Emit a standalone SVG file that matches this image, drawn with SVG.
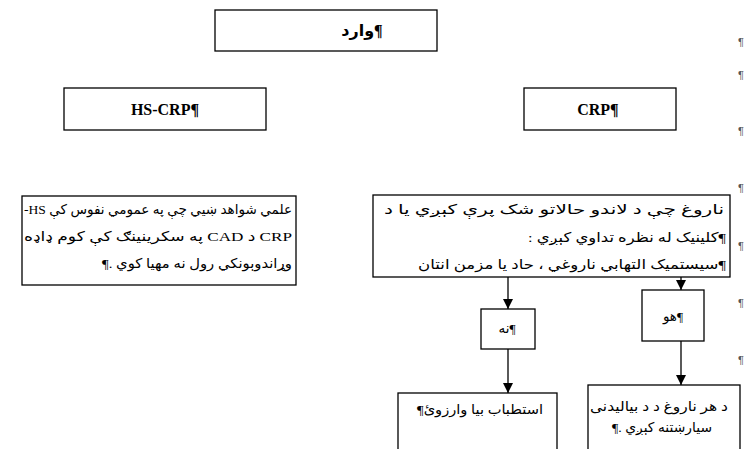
<svg xmlns="http://www.w3.org/2000/svg" width="749" height="449" viewBox="0 0 749 449">
<defs>
<marker id="ah" viewBox="0 0 10 10" refX="10" refY="5" markerWidth="11" markerHeight="10" markerUnits="userSpaceOnUse" orient="auto">
<path d="M0,0 L10,5 L0,10 z" fill="#000"/>
</marker>
<style>
.box{fill:#fff;stroke:#000;stroke-width:1.3}
.hd{font-family:"Liberation Serif","DejaVu Sans",serif;font-weight:bold;font-size:16px;fill:#000}
.arl{font-family:"Liberation Serif","DejaVu Sans",serif;font-size:13.5px;fill:#000}
.pm{font-family:"Liberation Sans",sans-serif;font-size:11px;fill:#555}
.ln{stroke:#000;stroke-width:1.3;fill:none;marker-end:url(#ah)}
</style>
</defs>
<rect width="749" height="449" fill="#fff"/>

<g id="n-entry">
<rect class="box" x="215" y="10" width="222" height="41"/>
<text class="hd" x="362" y="36" text-anchor="middle">وارد¶</text>
</g>

<g id="n-hscrp">
<rect class="box" x="64" y="88" width="202" height="42"/>
<text class="hd" x="165" y="115" text-anchor="middle">HS-CRP¶</text>
</g>

<g id="n-crp">
<rect class="box" x="524" y="88" width="152" height="42"/>
<text class="hd" x="598" y="115" text-anchor="middle">CRP¶</text>
</g>

<g id="n-hscrp-text">
<rect class="box" x="22" y="196" width="274" height="89"/>
<text class="arl" direction="rtl" x="292" y="214" textLength="268" lengthAdjust="spacingAndGlyphs">علمي شواهد ښيي چې په عمومي نفوس کې HS-</text>
<text class="arl" direction="rtl" x="292" y="241" textLength="268" lengthAdjust="spacingAndGlyphs">CRP د CAD په سکرینینګ کې کوم ډاډه</text>
<text class="arl" direction="rtl" x="292" y="268" textLength="190" lengthAdjust="spacingAndGlyphs">وړاندوېونکي رول نه مهیا کوي .¶</text>
</g>

<g id="n-crp-text">
<rect class="box" x="373" y="195" width="357" height="82"/>
<text class="arl" direction="rtl" x="724" y="214" textLength="340" lengthAdjust="spacingAndGlyphs">ناروغ چې د لاندو حالاتو شک پرې کېږي يا د</text>
<text class="arl" direction="rtl" x="726" y="242" textLength="198" lengthAdjust="spacingAndGlyphs">¶کلینیک له نظره تداوي کېږي :</text>
<text class="arl" direction="rtl" x="726" y="269" textLength="308" lengthAdjust="spacingAndGlyphs">¶سیستمیک التهابي ناروغي ، حاد يا مزمن انتان</text>
</g>

<g id="n-no">
<rect class="box" x="481" y="309" width="54" height="40"/>
<text class="arl" x="507" y="333" text-anchor="middle">نه¶</text>
</g>

<g id="n-yes">
<rect class="box" x="642" y="290" width="62" height="51"/>
<text class="arl" x="673" y="321" text-anchor="middle">هو¶</text>
</g>

<g id="n-reevaluate">
<rect class="box" x="398" y="393" width="159" height="70"/>
<text class="arl" direction="rtl" x="543" y="414" textLength="126" lengthAdjust="spacingAndGlyphs">استطباب بيا وارزوئ¶</text>
</g>

<g id="n-followup">
<rect class="box" x="588" y="385" width="152" height="70"/>
<text class="arl" direction="rtl" x="728" y="411" textLength="138" lengthAdjust="spacingAndGlyphs">د هر ناروغ د د بیالیدنی</text>
<text class="arl" direction="rtl" x="712" y="432" textLength="100" lengthAdjust="spacingAndGlyphs">سیارښتنه کېږي .¶</text>
</g>

<g id="connectors">
<line class="ln" x1="508" y1="277" x2="508" y2="309"/>
<line class="ln" x1="681" y1="277" x2="681" y2="290"/>
<line class="ln" x1="508" y1="349" x2="508" y2="393"/>
<line class="ln" x1="681" y1="341" x2="681" y2="385"/>
</g>

<g id="marks">
<text class="pm" x="738" y="46">¶</text>
<text class="pm" x="738" y="79">¶</text>
<text class="pm" x="738" y="135">¶</text>
<text class="pm" x="738" y="192">¶</text>
<text class="pm" x="738" y="250">¶</text>
<text class="pm" x="738" y="307">¶</text>
<text class="pm" x="738" y="364">¶</text>
</g>
</svg>
